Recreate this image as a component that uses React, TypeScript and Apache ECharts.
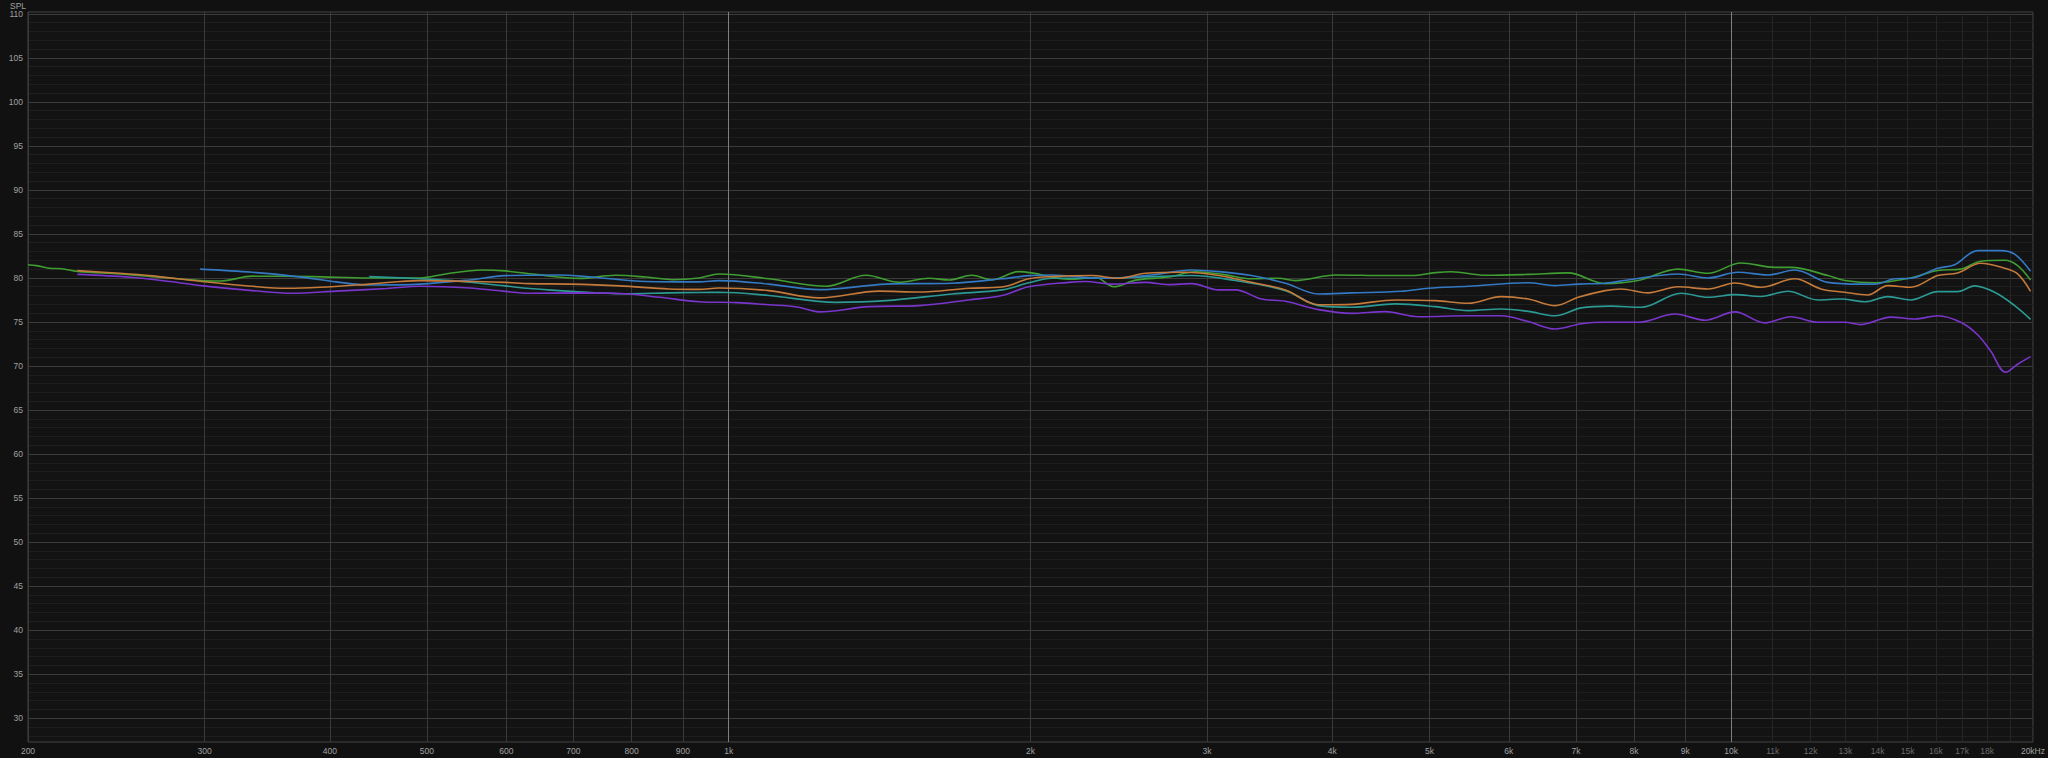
import React, { useEffect, useRef } from "react";
import * as echarts from "echarts";

// ---- Tick labels / grid positions ----
const X_LABELS: number[] = [200, 300, 400, 500, 600, 700, 800, 900, 1000, 2000, 3000, 4000, 5000, 6000, 7000, 8000, 9000, 10000, 11000, 12000, 13000, 14000, 15000, 16000, 17000, 18000, 20000];
const X_GRID: number[] = [200, 300, 400, 500, 600, 700, 800, 900, 1000, 2000, 3000, 4000, 5000, 6000, 7000, 8000, 9000, 10000, 11000, 12000, 13000, 14000, 15000, 16000, 17000, 18000, 19000, 20000];
const Y_LABELS: number[] = [30, 35, 40, 45, 50, 55, 60, 65, 70, 75, 80, 85, 90, 95, 100, 105, 110];

// ---- Series data: [frequency Hz, SPL dB] ----
const green: [number, number][] = [
  [200, 81.5], [204, 81.4], [210, 81.1], [216, 81.05], [224, 80.75], [247, 80.45], [266, 80.15], [297, 79.7], [311, 79.65], [335, 80.2], [384, 80.15], [438, 80.0], [492, 80.0], [522, 80.45], [567, 80.9], [598, 80.8], [641, 80.4], [710, 79.95], [771, 80.3], [827, 80.1], [880, 79.8], [934, 80.0], [978, 80.45], [1097, 79.9], [1251, 79.05], [1371, 80.3], [1479, 79.5], [1584, 79.96], [1659, 79.77], [1748, 80.3], [1830, 79.8], [1947, 80.72], [2006, 80.57], [2183, 79.85], [2323, 80.05], [2421, 79.0], [2547, 79.75], [2747, 80.1], [2923, 80.7], [3131, 80.35], [3323, 79.9], [3536, 79.96], [3676, 79.7], [4031, 80.34], [4519, 80.27], [4797, 80.27], [5069, 80.6], [5258, 80.7], [5684, 80.3], [6274, 80.4], [6876, 80.57], [7486, 79.35], [8075, 79.7], [8852, 81.0], [9482, 80.53], [10228, 81.7], [11058, 81.2], [11471, 81.2], [12488, 80.27], [12984, 79.7], [13909, 79.45], [15108, 80.0], [16071, 80.85], [16941, 81.0], [17735, 81.9], [18739, 82.0], [19308, 81.4], [19890, 79.75]
];
const blue: [number, number][] = [
  [297, 81.0], [335, 80.64], [371, 80.15], [406, 79.55], [438, 79.2], [492, 79.3], [551, 79.77], [598, 80.26], [675, 80.34], [733, 80.08], [827, 79.6], [934, 79.55], [978, 79.7], [1097, 79.3], [1231, 78.67], [1435, 79.3], [1670, 79.4], [1873, 79.9], [1992, 80.26], [2100, 80.34], [2355, 79.96], [2641, 80.34], [2896, 80.9], [3081, 80.72], [3323, 80.27], [3592, 79.4], [3876, 78.18], [4181, 78.3], [4688, 78.48], [4988, 78.83], [5467, 79.05], [6274, 79.45], [6675, 79.13], [7036, 79.3], [7486, 79.4], [7891, 79.77], [8852, 80.45], [9482, 80.0], [10157, 80.64], [10881, 80.34], [11577, 80.9], [12488, 79.5], [13471, 79.3], [13909, 79.3], [14562, 79.9], [15108, 79.96], [16071, 81.1], [16708, 81.5], [17613, 83.1], [18566, 83.1], [19175, 82.7], [19890, 80.76]
];
const orange: [number, number][] = [
  [224, 80.83], [247, 80.53], [266, 80.23], [297, 79.62], [335, 79.05], [362, 78.83], [391, 78.94], [438, 79.3], [492, 79.7], [552, 79.6], [598, 79.5], [633, 79.35], [694, 79.3], [778, 79.1], [872, 78.75], [934, 78.7], [978, 78.86], [1097, 78.56], [1231, 77.73], [1413, 78.5], [1548, 78.4], [1736, 78.83], [1873, 78.97], [1992, 79.9], [2100, 80.15], [2302, 80.27], [2449, 79.96], [2606, 80.53], [2856, 80.64], [3081, 80.27], [3323, 79.5], [3592, 78.64], [3876, 76.95], [4181, 77.0], [4624, 77.5], [5069, 77.42], [5467, 77.12], [5897, 77.88], [6274, 77.6], [6675, 76.86], [7036, 77.8], [7486, 78.56], [7765, 78.75], [8261, 78.3], [8852, 79.0], [9482, 78.75], [10088, 79.43], [10707, 78.94], [11577, 79.9], [12288, 78.75], [12984, 78.37], [13686, 78.07], [14329, 79.13], [15108, 78.94], [16071, 80.27], [16824, 80.57], [17735, 81.67], [18739, 81.1], [19308, 80.45], [19890, 78.48]
];
const teal: [number, number][] = [
  [438, 80.15], [492, 79.9], [530, 79.7], [598, 79.1], [633, 78.8], [703, 78.45], [787, 78.2], [872, 78.3], [934, 78.35], [978, 78.37], [1097, 78.0], [1279, 77.23], [1435, 77.42], [1670, 78.18], [1873, 78.64], [1992, 79.45], [2100, 79.96], [2355, 79.96], [2641, 80.15], [2896, 80.27], [3203, 79.7], [3592, 78.56], [3876, 76.86], [4181, 76.67], [4624, 77.05], [5069, 76.74], [5467, 76.29], [5897, 76.48], [6274, 76.2], [6675, 75.7], [7085, 76.6], [7590, 76.8], [8131, 76.67], [8914, 78.26], [9482, 77.8], [10088, 78.1], [10707, 77.9], [11392, 78.48], [12203, 77.5], [12865, 77.6], [13592, 77.3], [14329, 77.88], [15108, 77.5], [16071, 78.45], [16824, 78.45], [17492, 79.1], [18316, 78.37], [19175, 76.86], [19890, 75.3]
];
const purple: [number, number][] = [
  [224, 80.4], [253, 80.08], [277, 79.6], [299, 79.1], [335, 78.56], [367, 78.26], [406, 78.5], [456, 78.8], [492, 79.05], [552, 78.86], [595, 78.5], [633, 78.26], [710, 78.3], [787, 78.2], [854, 77.8], [934, 77.3], [1017, 77.2], [1097, 76.95], [1170, 76.7], [1231, 76.15], [1380, 76.74], [1548, 76.86], [1736, 77.5], [1873, 78.0], [1992, 79.0], [2183, 79.5], [2270, 79.6], [2410, 79.3], [2606, 79.5], [2747, 79.24], [2896, 79.35], [3081, 78.64], [3203, 78.64], [3400, 77.6], [3592, 77.35], [3876, 76.4], [4181, 75.98], [4519, 76.17], [4875, 75.6], [5467, 75.7], [5897, 75.7], [6274, 75.05], [6675, 74.2], [7085, 74.8], [7486, 74.96], [8075, 74.96], [8791, 75.9], [9417, 75.2], [10088, 76.15], [10806, 74.9], [11471, 75.6], [12203, 74.96], [12984, 74.96], [13471, 74.7], [14428, 75.55], [15247, 75.34], [16071, 75.7], [16941, 74.96], [17613, 73.55], [18148, 71.7], [18782, 69.3], [19308, 70.2], [19890, 71.06]
];

const FONT = "'Liberation Sans', Arial, sans-serif";

function buildYGrid(): number[] {
  const out: number[] = [];
  for (let v = 28; v <= 110; v++) out.push(v);
  return out;
}

export default function App() {
  const ref = useRef<HTMLDivElement>(null);
  useEffect(() => {
    if (!ref.current) return;
    const chart = echarts.init(ref.current, undefined, { renderer: "svg" });
    const yGrid = buildYGrid();
    const xColors = X_GRID.map((f) =>
      f === 1000 || f === 10000 ? "#7e7e7e" : f > 10000 ? "#262626" : "#3a3a3a"
    );
    const yColors = yGrid.map((v) => (v % 5 === 0 ? "#3c3c3c" : "#1e1e1e"));
    const mk = (name: string, data: [number, number][], color: string) => ({
      name,
      type: "line",
      data,
      showSymbol: false,
      smooth: 0.35,
      lineStyle: { color, width: 1.6 },
      itemStyle: { color },
      emphasis: { disabled: true },
    });
    chart.setOption({
      animation: false,
      backgroundColor: "#111111",
      textStyle: { fontFamily: FONT },
      grid: {
        left: 28,
        right: 13,
        top: 12,
        bottom: 16,
        show: true,
        backgroundColor: "#131313",
        borderColor: "#444444",
        borderWidth: 1,
      },
      xAxis: {
        type: "log",
        logBase: 10,
        min: 200,
        max: 20000,
        axisLine: { show: false },
        axisTick: { show: false, customValues: X_GRID },
        axisLabel: {
          customValues: X_LABELS,
          fontSize: 8.5,
          fontFamily: FONT,
          margin: 4,
          hideOverlap: false,
          color: (v: any) => {
            const f = Number(v);
            return f > 10000 && f < 20000 ? "#6a6a6a" : "#a0a0a0";
          },
          formatter: (v: number) => {
            const f = Math.round(v);
            if (f === 20000) return "20kHz";
            if (f >= 1000) return f / 1000 + "k";
            return String(f);
          },
        },
        splitLine: {
          show: true,
          showMinLine: true,
          showMaxLine: true,
          lineStyle: { color: xColors, width: 1 },
        },
        minorSplitLine: { show: false },
      },
      yAxis: {
        type: "value",
        min: 27.3,
        max: 110.2,
        axisLine: { show: false },
        axisTick: { show: false, customValues: yGrid },
        axisLabel: {
          customValues: Y_LABELS,
          fontSize: 8.5,
          fontFamily: FONT,
          margin: 5,
          color: "#a0a0a0",
          formatter: (v: number) => String(Math.round(v)),
        },
        splitLine: {
          show: true,
          showMinLine: true,
          showMaxLine: true,
          lineStyle: { color: yColors, width: 1 },
        },
      },
      graphic: [
        {
          type: "text",
          left: 10,
          top: 1,
          style: { text: "SPL", fill: "#a0a0a0", fontSize: 8.5, fontFamily: FONT },
        },
      ],
      series: [
        mk("green", green, "#3f9d32"),
        mk("teal", teal, "#2c9a94"),
        mk("blue", blue, "#3479c4"),
        mk("orange", orange, "#c47a3a"),
        mk("purple", purple, "#7a35cc"),
      ],
    });
    return () => chart.dispose();
  }, []);
  return (
    <div
      ref={ref}
      style={{ position: "fixed", left: 0, top: 0, width: 2048, height: 758, background: "#111111" }}
    />
  );
}
